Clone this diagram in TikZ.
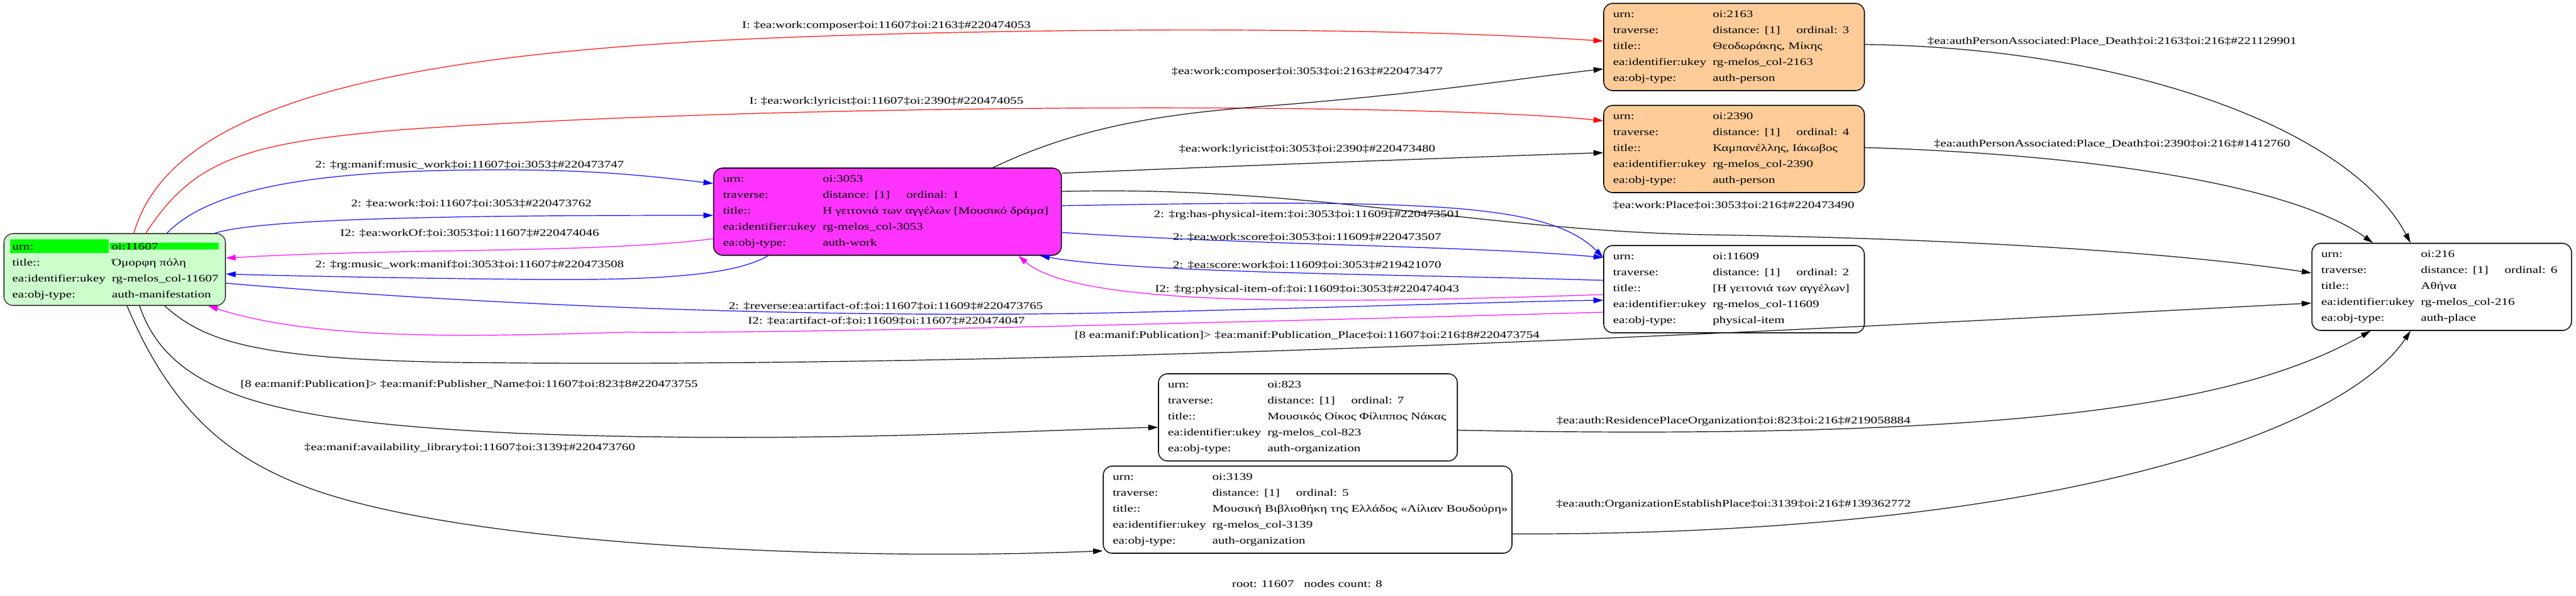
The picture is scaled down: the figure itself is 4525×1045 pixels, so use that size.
\documentclass[tikz,border=0pt]{standalone}
\usepackage{fontspec}
\setmainfont{Liberation Serif}[FakeStretch=1.32]
\usetikzlibrary{arrows.meta}
\definecolor{peach}{RGB}{255,204,153}
\definecolor{mfill}{RGB}{255,51,255}
\definecolor{mgc}{RGB}{255,0,255}
\definecolor{lgreen}{RGB}{204,255,204}
\definecolor{hgreen}{RGB}{0,255,0}
\newcommand\gfont{\fontsize{17.6pt}{28pt}\selectfont}
\newcommand\rw[2]{\makebox[175pt][l]{#1}\mbox{#2}}
\newcommand\trv[1]{\makebox[147pt][l]{distance: [1]}ordinal: #1}
\tikzstyle{rec}=[draw=black,line width=1.6pt,rounded corners=16pt,inner xsep=16.5pt,inner ysep=0pt,minimum height=153pt,align=left]
\tikzstyle{ed}=[line width=1.2pt,-{Triangle[length=17pt,width=10pt]}]

\begin{document}
\begin{tikzpicture}[x=1pt,y=-1pt,every node/.style={font=\gfont}]
\useasboundingbox (0,0) rectangle (4525,1045);
\node[rec,draw=black!75,fill=lgreen,inner xsep=11pt,text width=367pt,minimum height=126pt] (n11607) at (201.5,473) {\fboxsep=0pt\colorbox{hgreen}{\makebox[173pt][l]{\rule[-6pt]{0pt}{24pt}\hspace{3.6pt}urn:}}\hspace{2pt}\colorbox{hgreen}{\makebox[191pt][l]{\hspace{3pt}oi:11607}}\\
\hspace*{3.6pt}\rw{title::}{Όμορφη πόλη}\\
\hspace*{3.6pt}\rw{ea:identifier:ukey}{rg-melos\_col-11607}\\
\hspace*{3.6pt}\rw{ea:obj-type:}{auth-manifestation}};
\node[rec,fill=mfill,text width=578pt] (n3053) at (1559,371.5) {\rw{urn:}{oi:3053}\\
\rw{traverse:}{\trv{1}}\\
\rw{title::}{Η γειτονιά των αγγέλων [Μουσικό δράμα]}\\
\rw{ea:identifier:ukey}{rg-melos\_col-3053}\\
\rw{ea:obj-type:}{auth-work}};
\node[rec,fill=peach,text width=425pt] (n2163) at (3046,82.5) {\rw{urn:}{oi:2163}\\
\rw{traverse:}{\trv{3}}\\
\rw{title::}{Θεοδωράκης, Μίκης}\\
\rw{ea:identifier:ukey}{rg-melos\_col-2163}\\
\rw{ea:obj-type:}{auth-person}};
\node[rec,fill=peach,text width=425pt] (n2390) at (3046,261.5) {\rw{urn:}{oi:2390}\\
\rw{traverse:}{\trv{4}}\\
\rw{title::}{Καμπανέλλης, Ιάκωβος}\\
\rw{ea:identifier:ukey}{rg-melos\_col-2390}\\
\rw{ea:obj-type:}{auth-person}};
\node[rec,fill=white,text width=425pt] (n11609) at (3046,507.5) {\rw{urn:}{oi:11609}\\
\rw{traverse:}{\trv{2}}\\
\rw{title::}{[Η γειτονιά των αγγέλων]}\\
\rw{ea:identifier:ukey}{rg-melos\_col-11609}\\
\rw{ea:obj-type:}{physical-item}};
\node[rec,fill=white,text width=423pt] (n216) at (4289,503.5) {\rw{urn:}{oi:216}\\
\rw{traverse:}{\trv{6}}\\
\rw{title::}{Αθήνα}\\
\rw{ea:identifier:ukey}{rg-melos\_col-216}\\
\rw{ea:obj-type:}{auth-place}};
\node[rec,fill=white,text width=492pt] (n823) at (2297.5,732.5) {\rw{urn:}{oi:823}\\
\rw{traverse:}{\trv{7}}\\
\rw{title::}{Μουσικός Οίκος Φίλιππος Νάκας}\\
\rw{ea:identifier:ukey}{rg-melos\_col-823}\\
\rw{ea:obj-type:}{auth-organization}};
\node[rec,fill=white,text width=685pt] (n3139) at (2297,894.5) {\rw{urn:}{oi:3139}\\
\rw{traverse:}{\trv{5}}\\
\rw{title::}{Μουσική Βιβλιοθήκη της Ελλάδος «Λίλιαν Βουδούρη»}\\
\rw{ea:identifier:ukey}{rg-melos\_col-3139}\\
\rw{ea:obj-type:}{auth-organization}};

\draw[ed,red] ([xshift=229pt]n11607.north west) .. controls (300,180) and (700,90) .. (1400,65) .. controls (1800,50) and (2400,45) .. ([yshift=10.5pt]n2163.west);
\draw[ed,red] ([xshift=250pt]n11607.north west) .. controls (340,280) and (430,250) .. (714,227) .. controls (1400,180) and (2500,180) .. ([yshift=49.5pt]n2390.west);
\draw[ed,blue] ([xshift=287pt]n11607.north west) .. controls (380,320) and (600,298) .. (880,298) .. controls (1050,298) and (1150,310) .. ([yshift=49.5pt]n3053.west);
\draw[ed,blue] ([xshift=-19pt]n11607.north east) .. controls (470,380) and (900,378) .. ([yshift=-6.5pt]n3053.west);
\draw[ed,mgc] ([yshift=-47.5pt]n3053.west) .. controls (1050,445) and (700,435) .. ([yshift=20pt]n11607.east);
\draw[ed,blue] ([xshift=96.5pt]n3053.south west) .. controls (1280,490) and (1100,492) .. (900,490) .. controls (700,488) and (500,484) .. ([yshift=-8pt]n11607.east);
\draw[ed,blue] ([yshift=-24pt]n11607.east) .. controls (900,540) and (1500,560) .. (2000,548) .. controls (2400,538) and (2700,528) .. ([yshift=-19.5pt]n11609.west);
\draw[ed,mgc] ([yshift=-40.5pt]n11609.west) .. controls (2000,570) and (1400,585) .. (1100,583) .. controls (850,590) and (560,600) .. ([xshift=-31pt]n11607.south east);
\draw[ed] ([xshift=283pt]n11607.south west) .. controls (360,600) and (450,630) .. (800,636) .. controls (2000,650) and (3500,560) .. ([yshift=-28.5pt]n216.west);
\draw[ed] ([xshift=239pt]n11607.south west) .. controls (300,700) and (500,740) .. (900,760) .. controls (1400,780) and (1800,755) .. ([yshift=-17.5pt]n823.west);
\draw[ed] ([xshift=217pt]n11607.south west) .. controls (300,720) and (400,800) .. (526,850) .. controls (800,960) and (1500,985) .. ([yshift=5pt]n3139.south west);
\draw[ed] ([xshift=491.5pt]n3053.north west) .. controls (1900,220) and (2050,200) .. (2213,187) .. controls (2500,165) and (2650,140) .. ([yshift=-38.5pt]n2163.west);
\draw[ed] ([yshift=67.5pt]n3053.east) .. controls (2200,290) and (2600,275) .. ([yshift=-6.5pt]n2390.west);
\draw[ed] ([yshift=35.5pt]n3053.east) .. controls (2300,325) and (2600,405) .. (3000,412) .. controls (3400,418) and (3800,440) .. ([yshift=24.5pt]n216.west);
\draw[ed,blue] ([yshift=10.5pt]n3053.east) .. controls (2500,350) and (2720,355) .. ([yshift=55.5pt]n11609.west);
\draw[ed,blue] ([yshift=-36.5pt]n3053.east) .. controls (2200,430) and (2600,432) .. ([yshift=55.5pt]n11609.west);
\draw[ed,blue] ([yshift=15.5pt]n11609.west) .. controls (2500,482) and (2000,480) .. ([xshift=-38.5pt]n3053.south east);
\draw[ed,mgc] ([yshift=-9.5pt]n11609.west) .. controls (2400,530) and (1900,545) .. ([xshift=-76.5pt]n3053.south east);
\draw[ed] ([yshift=4.5pt]n2163.east) .. controls (3750,85) and (4130,230) .. ([xshift=174pt]n216.north west);
\draw[ed] ([yshift=2.5pt]n2390.east) .. controls (3650,270) and (4020,320) .. ([xshift=108pt]n216.north west);
\draw[ed] ([yshift=-22.5pt]n823.east) .. controls (3600,775) and (3950,700) .. ([xshift=104pt]n216.south west);
\draw[ed] ([yshift=-42.5pt]n3139.east) .. controls (3600,940) and (4115,760) .. ([xshift=174pt]n216.south west);

\node[] (lcomp) at (1557,45) {I: ‡ea:work:composer‡oi:11607‡oi:2163‡\#220474053};
\node[] (llyr) at (1557,178) {I: ‡ea:work:lyricist‡oi:11607‡oi:2390‡\#220474055};
\node[] (lmw) at (825,290) {2: ‡rg:manif:music\_work‡oi:11607‡oi:3053‡\#220473747};
\node[] (lwork) at (828,357) {2: ‡ea:work:‡oi:11607‡oi:3053‡\#220473762};
\node[] (lwof) at (825,409) {I2: ‡ea:workOf:‡oi:3053‡oi:11607‡\#220474046};
\node[] (lmwm) at (825,465) {2: ‡rg:music\_work:manif‡oi:3053‡oi:11607‡\#220473508};
\node[] (lrev) at (1556,537) {2: ‡reverse:ea:artifact-of:‡oi:11607‡oi:11609‡\#220473765};
\node[] (lart) at (1557,563) {I2: ‡ea:artifact-of:‡oi:11609‡oi:11607‡\#220474047};
\node[] (lpp) at (2296,588) {[8 ea:manif:Publication]> ‡ea:manif:Publication\_Place‡oi:11607‡oi:216‡8\#220473754};
\node[] (lpn) at (824,674) {[8 ea:manif:Publication]> ‡ea:manif:Publisher\_Name‡oi:11607‡oi:823‡8\#220473755};
\node[] (lav) at (825,786) {‡ea:manif:availability\_library‡oi:11607‡oi:3139‡\#220473760};
\node[] (lwc) at (2296,126) {‡ea:work:composer‡oi:3053‡oi:2163‡\#220473477};
\node[] (lwl) at (2296,262) {‡ea:work:lyricist‡oi:3053‡oi:2390‡\#220473480};
\node[] (lpl) at (3045,360) {‡ea:work:Place‡oi:3053‡oi:216‡\#220473490};
\node[] (lhpi) at (2296,377) {2: ‡rg:has-physical-item:‡oi:3053‡oi:11609‡\#220473501};
\node[] (lsc) at (2296,416) {2: ‡ea:work:score‡oi:3053‡oi:11609‡\#220473507};
\node[] (lscw) at (2296,465) {2: ‡ea:score:work‡oi:11609‡oi:3053‡\#219421070};
\node[] (lpio) at (2296,508) {I2: ‡rg:physical-item-of:‡oi:11609‡oi:3053‡\#220474043};
\node[] (ld1) at (3710,73) {‡ea:authPersonAssociated:Place\_Death‡oi:2163‡oi:216‡\#221129901};
\node[] (ld2) at (3710,253) {‡ea:authPersonAssociated:Place\_Death‡oi:2390‡oi:216‡\#1412760};
\node[] (lres) at (3045,739) {‡ea:auth:ResidencePlaceOrganization‡oi:823‡oi:216‡\#219058884};
\node[] (lest) at (3045,885) {‡ea:auth:OrganizationEstablishPlace‡oi:3139‡oi:216‡\#139362772};
\node[] (foot) at (2296,1025) {root: 11607\quad nodes count: 8};
\end{tikzpicture}
\end{document}
